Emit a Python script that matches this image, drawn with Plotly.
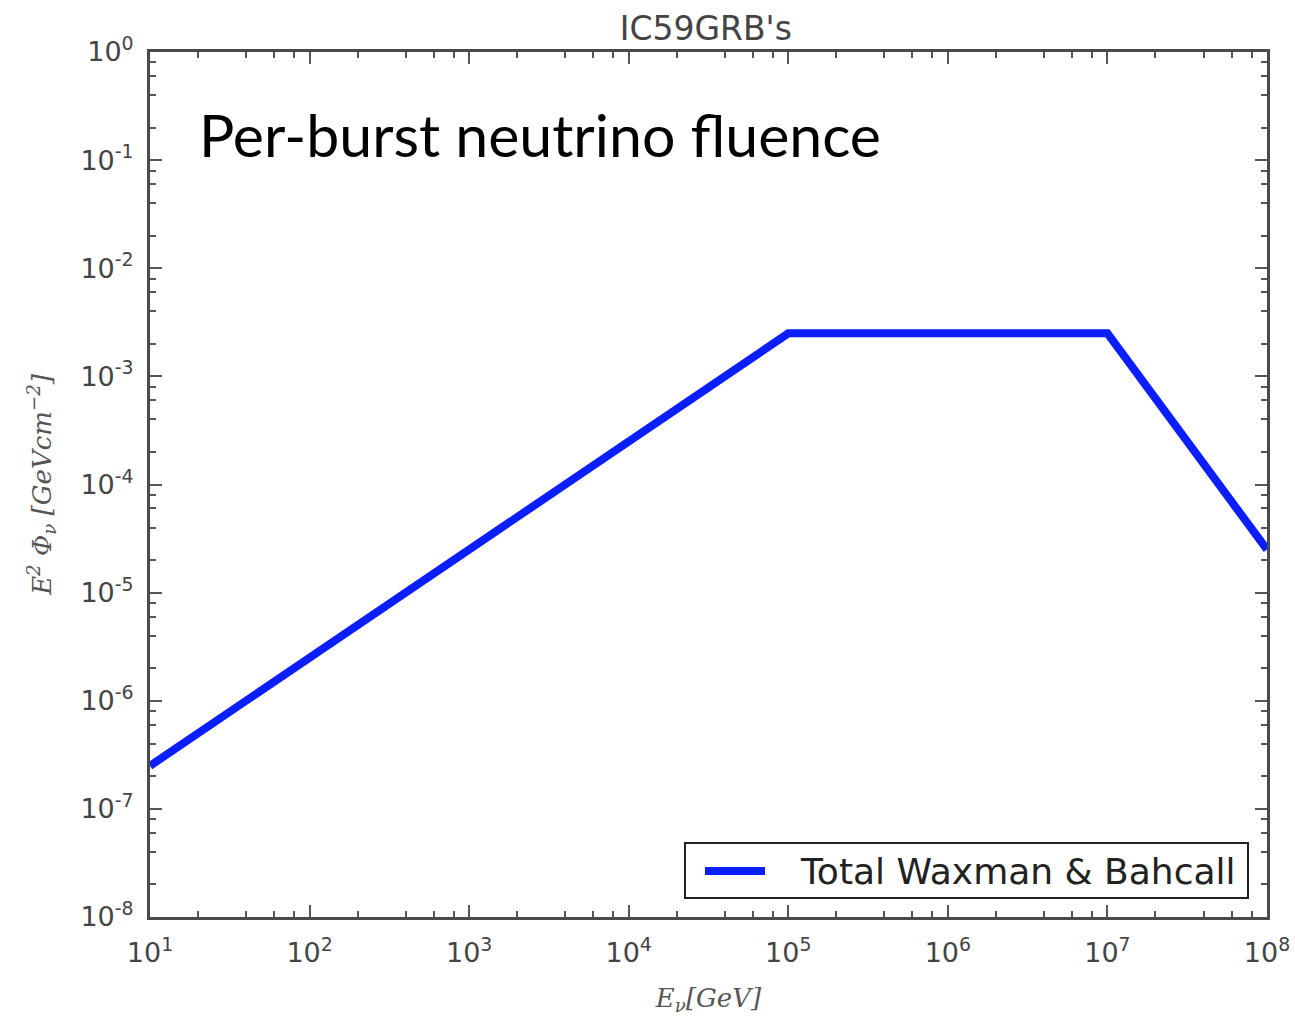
import plotly.graph_objects as go

energy_gev = [1e1, 1e5, 1e7, 1e8]
e2_flux = [2.5e-7, 2.5e-3, 2.5e-3, 2.5e-5]
series_name = "Total Waxman & Bahcall"
line_color = "#0a1eff"

x_tick_exps = [1, 2, 3, 4, 5, 6, 7, 8]
y_tick_exps = [-8, -7, -6, -5, -4, -3, -2, -1, 0]
minor_mults = [2, 4, 6, 8]

x_tickvals = [10 ** e for e in x_tick_exps]
x_ticktext = [f"10<sup>{e}</sup>" for e in x_tick_exps]
y_tickvals = [10.0 ** e for e in y_tick_exps]
y_ticktext = [f"10<sup>{e}</sup>" for e in y_tick_exps]

x_minor = [m * 10 ** e for e in range(1, 8) for m in minor_mults]
y_minor = [m * 10.0 ** e for e in range(-8, 0) for m in minor_mults]

fig = go.Figure()
fig.add_trace(go.Scatter(
    x=energy_gev, y=e2_flux, mode="lines", name=series_name,
    line=dict(color=line_color, width=8), showlegend=False,
))

axis_common = dict(
    type="log", showgrid=False, zeroline=False, automargin=False,
    showline=True, linecolor="#4a4a4a", linewidth=3, mirror="ticks",
    ticks="inside", ticklen=12, tickwidth=1.5, tickcolor="#555555",
    tickfont=dict(family="DejaVu Sans", size=27, color="#444444"),
)

fig.update_layout(
    width=1295, height=1016,
    margin=dict(l=150, r=28, t=52, b=99),
    paper_bgcolor="white", plot_bgcolor="white",
    title=dict(text="IC59GRB's", x=0.545, xanchor="center", y=0.972, yanchor="middle",
               font=dict(family="DejaVu Sans", size=33, color="#444444")),
    xaxis=dict(**axis_common, range=[1, 8], tickvals=x_tickvals, ticktext=x_ticktext,
               ticklabelstandoff=10,
               minor=dict(tickvals=x_minor, ticks="inside", ticklen=6, tickcolor="#555555"),
               title=dict(text="<i>E<sub>ν</sub>[GeV]</i>", standoff=22,
                          font=dict(family="DejaVu Serif", size=26, color="#555555"))),
    yaxis=dict(**axis_common, range=[-8, 0], tickvals=y_tickvals, ticktext=y_ticktext,
               ticklabelstandoff=8,
               minor=dict(tickvals=y_minor, ticks="inside", ticklen=6, tickcolor="#555555"),
               title=dict(text="<i>E<sup>2</sup> Φ<sub>ν</sub> [GeVcm<sup>−2</sup>]</i>", standoff=22,
                          font=dict(family="DejaVu Serif", size=26, color="#555555"))),
    showlegend=False,
)

# manual legend box
fig.add_shape(type="rect", xref="paper", yref="paper",
              x0=(685 - 150) / 1117, x1=(1248 - 150) / 1117,
              y0=(917 - 898) / 865, y1=(917 - 843) / 865,
              line=dict(color="#222222", width=2), fillcolor="white", layer="above")
fig.add_shape(type="line", xref="paper", yref="paper",
              x0=(705 - 150) / 1117, x1=(765 - 150) / 1117,
              y0=(917 - 871) / 865, y1=(917 - 871) / 865,
              line=dict(color=line_color, width=8), layer="above")
fig.add_annotation(
    text=series_name, xref="paper", yref="paper",
    x=(798 - 150) / 1117, y=(917 - 871) / 865, xanchor="left", yanchor="middle",
    showarrow=False, font=dict(family="DejaVu Sans", size=36, color="#222222"),
)

fig.add_annotation(
    text="Per-burst neutrino fluence", xref="paper", yref="paper",
    x=0.042, y=0.905, xanchor="left", yanchor="middle", showarrow=False,
    font=dict(family="Lato", size=59, color="black"),
)

fig.write_html("out.html")
